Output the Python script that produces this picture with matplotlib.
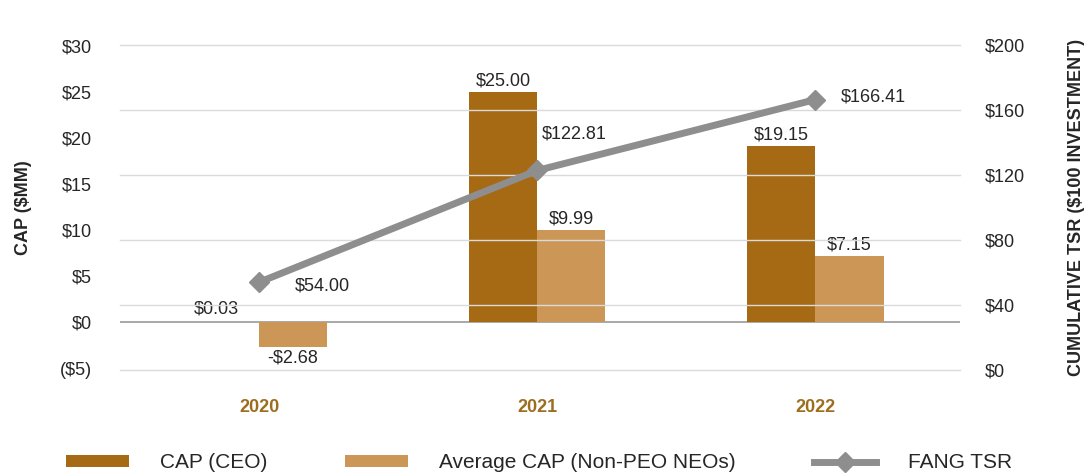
import matplotlib
matplotlib.use("Agg")
import matplotlib.pyplot as plt
from matplotlib.patches import Patch
from matplotlib.lines import Line2D
import numpy as np

years = ["2020", "2021", "2022"]
cap_ceo = [0.03, 25.00, 19.15]
cap_neo = [-2.68, 9.99, 7.15]
tsr = [54.00, 122.81, 166.41]
left_ticks = [-5, 0, 5, 10, 15, 20, 25, 30]
left_labels = ["($5)", "$0", "$5", "$10", "$15", "$20", "$25", "$30"]
right_ticks = [0, 40, 80, 120, 160, 200]
right_labels = ["$0", "$40", "$80", "$120", "$160", "$200"]

c_ceo = "#A66A14"
c_neo = "#CB9656"
c_line = "#8E8E8E"
c_text = "#262626"
c_year = "#9C6E20"

plt.rcParams['font.family'] = ['Liberation Sans Narrow', 'Liberation Sans', 'DejaVu Sans']

fig = plt.figure(figsize=(10.87, 4.75), dpi=100)
ax = fig.add_axes([120/1087, 1-370/475, 840/1087, 325/475])
ax2 = ax.twinx()

x = np.arange(len(years))
w = 0.245
ax.bar(x - w/2, cap_ceo, w, color=c_ceo, zorder=3)
ax.bar(x + w/2, cap_neo, w, color=c_neo, zorder=3)
ax.set_xlim(-0.5, 2.52)
ax.set_ylim(-5.2, 30.1)
ax2.set_ylim(0, 200)

for yv in right_ticks:
    ax2.axhline(yv, color="#DADADA", lw=1, zorder=0, clip_on=False)
ax.axhline(0, color="#9A9A9A", lw=1.2, zorder=2)

ax2.plot(x, tsr, color=c_line, lw=5, marker="D", markersize=10, zorder=4)

for s in list(ax.spines.values()) + list(ax2.spines.values()):
    s.set_visible(False)

ax.set_yticks(left_ticks)
ax.set_yticklabels(left_labels, fontsize=13, color=c_text)
ax.tick_params(axis="y", length=0, pad=20)
ax2.set_yticks(right_ticks)
ax2.set_yticklabels(right_labels, fontsize=13, color=c_text)
ax2.tick_params(axis="y", length=0, pad=18)
ax.set_xticks(x)
ax.set_xticklabels(years, fontsize=13, color=c_year, fontweight="bold")
ax.tick_params(axis="x", length=0, pad=21)

ax.set_ylabel("CAP ($MM)", fontsize=13, color=c_text, fontweight="bold", labelpad=20)
ax2.set_ylabel("CUMULATIVE TSR ($100 INVESTMENT)", fontsize=13, color=c_text,
               fontweight="bold", rotation=90, labelpad=31)

fs = 13
# CEO bar labels
ax.annotate(f"${cap_ceo[0]:.2f}", (x[0]-w/2, cap_ceo[0]), xytext=(-6, 3),
            textcoords="offset points", ha="center", va="bottom", fontsize=fs, color=c_text)
for i in [1, 2]:
    ax.annotate(f"${cap_ceo[i]:.2f}", (x[i]-w/2, cap_ceo[i]), xytext=(0, 2),
                textcoords="offset points", ha="center", va="bottom", fontsize=fs, color=c_text)
# NEO bar labels
ax.annotate(f"-${abs(cap_neo[0]):.2f}", (x[0]+w/2, cap_neo[0]), xytext=(0, -2),
            textcoords="offset points", ha="center", va="top", fontsize=fs, color=c_text)
for i in [1, 2]:
    ax.annotate(f"${cap_neo[i]:.2f}", (x[i]+w/2, cap_neo[i]), xytext=(0, 2),
                textcoords="offset points", ha="center", va="bottom", fontsize=fs, color=c_text)
# TSR labels
ax2.annotate(f"${tsr[0]:.2f}", (x[0], tsr[0]), xytext=(26, -3),
             textcoords="offset points", ha="left", va="center", fontsize=fs, color=c_text)
ax2.annotate(f"${tsr[1]:.2f}", (x[1], tsr[1]), xytext=(3, 26),
             textcoords="offset points", ha="left", va="center", fontsize=fs, color=c_text)
ax2.annotate(f"${tsr[2]:.2f}", (x[2], tsr[2]), xytext=(18, 2),
             textcoords="offset points", ha="left", va="center", fontsize=fs, color=c_text)

handles = [Patch(facecolor=c_ceo, label="CAP (CEO)"),
           Patch(facecolor=c_neo, label="Average CAP (Non-PEO NEOs)"),
           Line2D([0], [0], color=c_line, lw=5, marker="D", markersize=10, label="FANG TSR")]
fig.legend(handles=handles, loc="center", bbox_to_anchor=(539/1087, 1-463/475), ncol=3,
           frameon=False, fontsize=15, handlelength=3.0, handleheight=0.5,
           handletextpad=1.5, columnspacing=3.75, labelcolor=c_text)

fig.savefig("out.png", dpi=100)
